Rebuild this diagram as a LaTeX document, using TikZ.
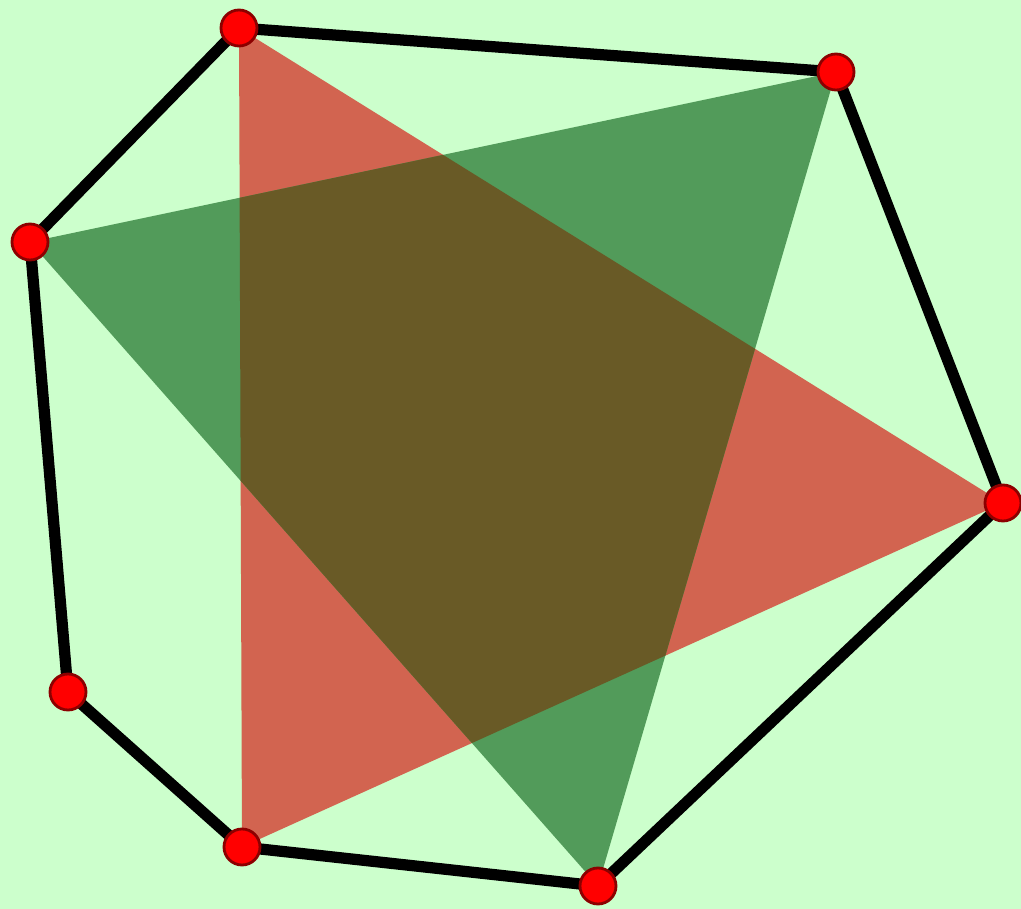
\documentclass[tikz,border=0pt]{standalone}
\definecolor{fondo}{RGB}{204,255,204}
\definecolor{rojotri}{RGB}{210,100,80}
\definecolor{verdetri}{RGB}{82,155,90}
\definecolor{mezcla}{RGB}{105,90,38}
\definecolor{bordepunto}{RGB}{140,0,0}
\tikzset{punto/.style={circle, fill=red, draw=bordepunto, line width=0.8pt, minimum size=0.36cm, inner sep=0pt}}
\begin{document}
\begin{tikzpicture}[line width=3.2pt, line cap=round, line join=round]
  \fill[fondo] (0,0) rectangle (10.21,9.09);
  \useasboundingbox (0,0) rectangle (10.21,9.09);
  % los vertices
  \coordinate (a) at (2.39,8.81);
  \coordinate (b) at (8.36,8.37);
  \coordinate (c) at (10.03,4.06);
  \coordinate (d) at (5.98,0.23);
  \coordinate (e) at (2.42,0.62);
  \coordinate (f) at (0.68,2.17);
  \coordinate (g) at (0.30,6.67);
  % los triangulos
  \fill[rojotri] (a) -- (c) -- (e) -- cycle;
  \fill[verdetri] (g) -- (b) -- (d) -- cycle;
  \begin{scope}
    \clip (a) -- (c) -- (e) -- cycle;
    \fill[mezcla] (g) -- (b) -- (d) -- cycle;
  \end{scope}
  % el heptagono
  \draw (a) -- (b) -- (c) -- (d) -- (e) -- (f) -- (g) -- cycle;
  \foreach \v in {a,b,c,d,e,f,g} {
    \node[punto] (p\v) at (\v) {};
  }
\end{tikzpicture}
\end{document}
